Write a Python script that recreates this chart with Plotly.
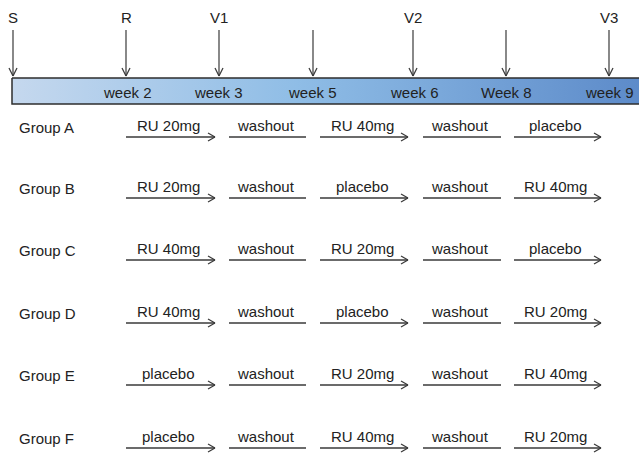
import plotly.graph_objects as go

# ---- data ----
visit_labels = ["S", "R", "V1", "", "V2", "", "V3"]
week_labels = ["week 2", "week 3", "week 5", "week 6", "Week 8", "week 9"]
groups = ["Group A", "Group B", "Group C", "Group D", "Group E", "Group F"]
schedule = [
    ["RU 20mg", "washout", "RU 40mg", "washout", "placebo"],
    ["RU 20mg", "washout", "placebo", "washout", "RU 40mg"],
    ["RU 40mg", "washout", "RU 20mg", "washout", "placebo"],
    ["RU 40mg", "washout", "placebo", "washout", "RU 20mg"],
    ["placebo", "washout", "RU 20mg", "washout", "RU 40mg"],
    ["placebo", "washout", "RU 40mg", "washout", "RU 20mg"],
]

# ---- layout constants (diagram coordinates = page pixels) ----
W, H = 639, 453
visit_x = [13, 126, 219, 313, 413, 506, 609]
week_x = [127, 218, 312, 414, 506, 609]
bar_x0, bar_x1, bar_y0, bar_y1 = 12, 645, 78, 104
row_y = [127, 188, 250, 313, 375, 438]
seg_spans = [(126, 215), (229, 306), (320, 408), (423, 501), (514, 601)]

FONT = "Liberation Sans, Arial, sans-serif"
FS = 15
LC = "#3a3a3a"
TC = "#222222"

fig = go.Figure()

# gradient timeline bar
fig.add_trace(go.Scatter(
    x=[bar_x0, bar_x1, bar_x1, bar_x0, bar_x0],
    y=[bar_y0, bar_y0, bar_y1, bar_y1, bar_y0],
    mode="lines", fill="toself",
    fillgradient=dict(type="horizontal",
                      colorscale=[[0, "#c5d8ee"], [0.45, "#8fbde6"], [1, "#5c8ac9"]]),
    line=dict(color="#2e2e2e", width=1.5),
    hoverinfo="skip", showlegend=False,
))

shapes = []
annotations = []

def line(x0, y0, x1, y1, w=1.2, c=LC):
    shapes.append(dict(type="line", x0=x0, y0=y0, x1=x1, y1=y1,
                       line=dict(color=c, width=w), layer="above"))

# visit arrows
for lab, x in zip(visit_labels, visit_x):
    line(x, 30, x, 76)
    line(x - 4, 68, x, 76)
    line(x + 4, 68, x, 76)
    if lab:
        annotations.append(dict(x=x, y=17, text=lab, showarrow=False,
                                font=dict(size=FS, color=TC, family=FONT),
                                xanchor="center", yanchor="middle"))

# week labels
for lab, x in zip(week_labels, week_x):
    annotations.append(dict(x=x, y=92, text=lab, showarrow=False,
                            font=dict(size=FS, color=TC, family=FONT),
                            xanchor="center", yanchor="middle"))

# group rows
for g, y, phases in zip(groups, row_y, schedule):
    annotations.append(dict(x=17, y=y, text=g, showarrow=False,
                            font=dict(size=FS, color=TC, family=FONT),
                            xanchor="left", yanchor="middle"))
    ly = y + 10
    for (x0, x1), ph in zip(seg_spans, phases):
        line(x0, ly, x1, ly, w=1.3)
        if ph != "washout":
            line(x1 - 7, ly - 4, x1, ly)
            line(x1 - 7, ly + 4, x1, ly)
        annotations.append(dict(x=(x0 + x1) / 2 - 2, y=ly - 1, text=ph, showarrow=False,
                                font=dict(size=FS, color=TC, family=FONT),
                                xanchor="center", yanchor="bottom"))

fig.update_layout(
    width=W, height=H,
    margin=dict(l=0, r=0, t=0, b=0),
    paper_bgcolor="white", plot_bgcolor="white",
    xaxis=dict(range=[0, W], visible=False, fixedrange=True),
    yaxis=dict(range=[H, 0], visible=False, fixedrange=True),
    shapes=shapes, annotations=annotations,
    showlegend=False,
)

fig.write_html(
    "out.html",
    config={"displayModeBar": False, "staticPlot": True},
    post_script="document.body.style.margin='0';document.body.style.overflow='hidden';",
)
